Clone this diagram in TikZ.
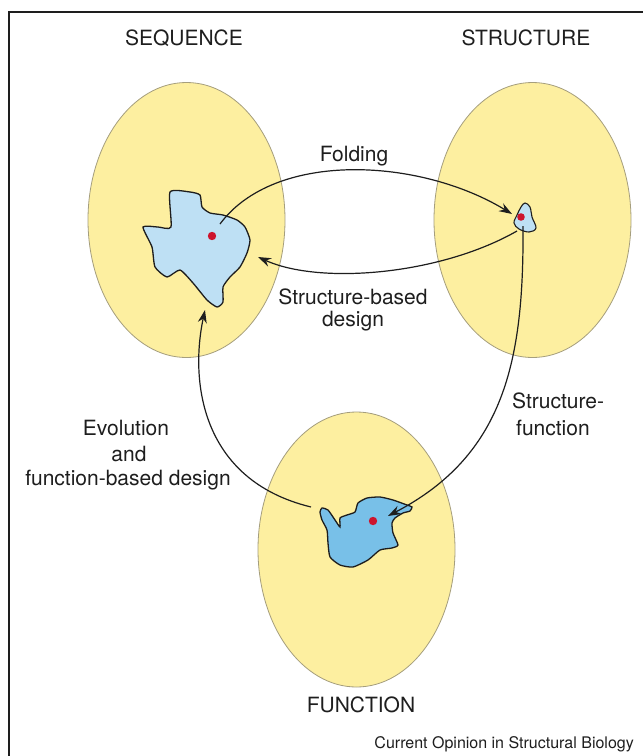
\documentclass[tikz,border=0pt]{standalone}
\usepackage{fontspec}
\setmainfont{TeX Gyre Heros}
\usetikzlibrary{arrows.meta}
\definecolor{ovalfill}{RGB}{253,239,160}
\definecolor{ovaledge}{RGB}{165,158,125}
\definecolor{lightblob}{RGB}{190,224,244}
\definecolor{darkblob}{RGB}{120,192,232}
\definecolor{dotred}{RGB}{205,20,45}
\definecolor{ink}{RGB}{30,30,30}
\begin{document}
\begin{tikzpicture}[x=1pt,y=-1pt,
  oval/.style={fill=ovalfill,draw=ovaledge,line width=0.8pt},
  blob/.style={draw=ink,line width=1.3pt},
  reddot/.style={fill=dotred,draw=none},
  conn/.style={draw=ink,line width=1.2pt,-{Stealth[length=13pt,width=9pt]}},
  lab/.style={font=\fontsize{21}{25}\selectfont,text=ink,inner sep=0pt},
  captext/.style={font=\fontsize{16}{19}\selectfont,text=ink,inner sep=0pt}]
\useasboundingbox (0,0) rectangle (643,756);
\fill[white] (0,0) rectangle (643,756);
% frame
\draw[line width=1.5pt,ink] (9,756) -- (9,12) -- (643,12);
% ovals
\draw[oval] (186.5,220) ellipse [x radius=98.5,y radius=137.5];
\draw[oval] (532.5,220) ellipse [x radius=98.5,y radius=137.5];
\draw[oval] (356.5,549.5) ellipse [x radius=98.5,y radius=137.5];
% Texas-like blob (sequence)
\draw[blob,fill=lightblob] plot[smooth cycle,tension=0.35] coordinates {
 (170,192) (190,192) (200,195) (202,207) (210,213) (223,215) (237,220)
 (245,227) (250,240) (247,253) (240,267) (230,277) (223,287) (223,302)
 (217,307) (207,300) (193,283) (180,270) (167,277) (155,267) (152,247)
 (143,227) (158,227) (171,227)};
% structure blob
\draw[blob,line width=1.1pt,fill=lightblob] plot[smooth cycle,tension=0.6] coordinates {
 (525,203) (530,207) (532,217) (536,228) (529,232) (519,229) (514,223) (517,215) (521,207)};
% function blob
\draw[blob,fill=darkblob] plot[smooth cycle,tension=0.35] coordinates {
 (322,508) (328,510) (335,520) (340,527) (340,518) (347,515) (355,512)
 (358,503) (367,498) (380,497) (393,500) (407,505) (412,507) (410,511)
 (403,513) (395,518) (392,523) (393,533) (398,545) (392,548) (380,550)
 (368,560) (353,567) (340,565) (330,557) (328,543) (327,530) (322,520) (320,512)};
% dots
\fill[reddot] (212,236) circle (4.2);
\fill[reddot] (521,217) circle (3.8);
\fill[reddot] (373,521) circle (4.2);
% connector ends
\coordinate (seqA) at (220,224);
\coordinate (strIn) at (512,214);
\coordinate (strOut) at (517,231);
\coordinate (seqIn) at (258,257);
\coordinate (strDown) at (523,226);
\coordinate (funIn) at (388,516);
\coordinate (funOut) at (311,507);
\coordinate (seqBot) at (205,310);
% connectors
\draw[conn] (seqA) .. controls (275,150) and (420,158) .. (strIn);
\draw[conn] (strOut) .. controls (440,275) and (320,285) .. (seqIn);
\draw[conn] (strDown) .. controls (524,360) and (505,455) .. (funIn);
\draw[conn] (funOut) .. controls (200,480) and (190,380) .. (seqBot);
% labels
\node[lab] (tseq) at (184,38) {SEQUENCE};
\node[lab] (tstr) at (526,38) {STRUCTURE};
\node[lab] (tfun) at (361,705) {FUNCTION};
\node[lab] (tfold) at (354,156) {Folding};
\node[lab] (tsb1) at (353,297) {Structure-based};
\node[lab] (tsb2) at (353,321) {design};
\node[lab] (tev1) at (126,428) {Evolution};
\node[lab] (tev2) at (129,454) {and};
\node[lab] (tev3) at (128,480) {function-based design};
\node[lab,anchor=west] (tsf1) at (512,401) {Structure-};
\node[lab,anchor=west] (tsf2) at (516,428) {function};
\node[captext,anchor=east] (tcap) at (634,744) {Current Opinion in Structural Biology};
\end{tikzpicture}
\end{document}
